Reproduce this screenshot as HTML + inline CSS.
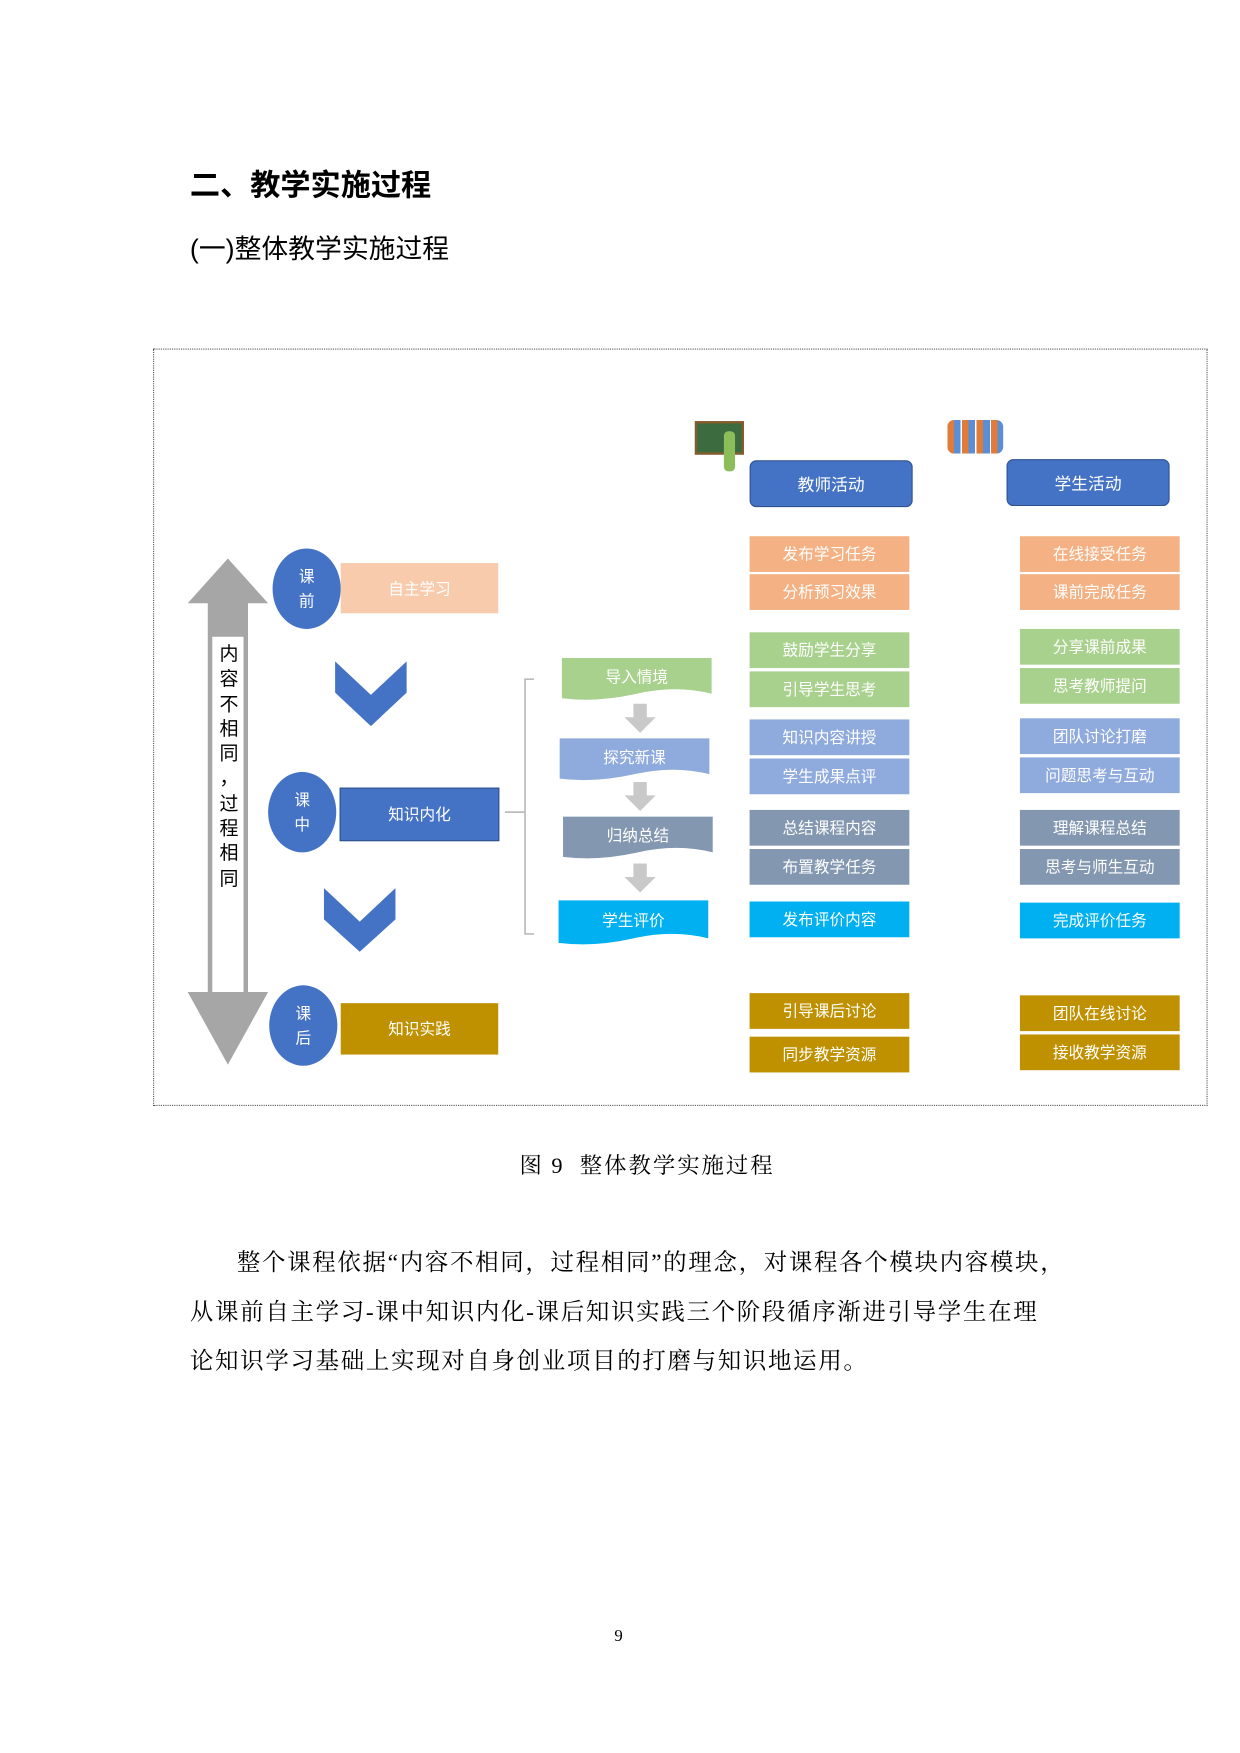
<!DOCTYPE html>
<html><head><meta charset="utf-8"><style>
html,body{margin:0;padding:0;background:#fff;}
body{width:1240px;height:1753px;overflow:hidden;position:relative;}
#w{position:absolute;left:0;top:0;width:1110px;height:1569px;transform:scale(1.11712);transform-origin:0 0;font-family:"Liberation Sans","Noto Sans CJK SC",sans-serif;}
.a{position:absolute;}
.b{position:absolute;color:#fff;font-size:14px;display:flex;align-items:center;justify-content:center;}
.t{width:143px;height:32px;}
.c{position:absolute;border-radius:50%;background:#4472c4;color:#fff;font-size:14px;display:flex;align-items:center;justify-content:center;text-align:center;line-height:22px;}
.serif{font-family:"Liberation Serif","Noto Serif CJK SC",serif;}
</style></head><body><div id="w">
<div class="a" style="left:170px;top:144px;font-size:27px;font-weight:bold;">二、教学实施过程</div>
<div class="a" style="left:170px;top:203px;font-size:24px;">(一)整体教学实施过程</div>
<div class="a" style="left:137px;top:312px;width:942px;height:676px;border:1px dotted #555;"></div>

<!-- icons -->
<div class="a" style="left:622px;top:377px;width:40px;height:26px;background:#3b6b3f;border:2px solid #8a5a2b;"></div>
<div class="a" style="left:648px;top:386px;width:10px;height:36px;background:#8bbd5a;border-radius:4px;"></div>
<div class="a" style="left:848px;top:376px;width:50px;height:30px;background:repeating-linear-gradient(90deg,#e07b39 0 6px,#5a8fd8 6px 12px,#fff 12px 13px);border-radius:6px;"></div>

<div class="b" style="left:671px;top:412px;width:144px;height:40px;background:#4472c4;border:1px solid #2f528f;border-radius:6px;font-size:15px;">教师活动</div>
<div class="b" style="left:901px;top:411px;width:144px;height:40px;background:#4472c4;border:1px solid #2f528f;border-radius:6px;font-size:15px;">学生活动</div>

<div class="b t" style="left:671px;top:480px;background:#f4b183">发布学习任务</div>
<div class="b t" style="left:671px;top:514px;background:#f4b183">分析预习效果</div>
<div class="b t" style="left:671px;top:566px;background:#a9d18e">鼓励学生分享</div>
<div class="b t" style="left:671px;top:601px;background:#a9d18e">引导学生思考</div>
<div class="b t" style="left:671px;top:644px;background:#8faadc">知识内容讲授</div>
<div class="b t" style="left:671px;top:679px;background:#8faadc">学生成果点评</div>
<div class="b t" style="left:671px;top:725px;background:#8497b0">总结课程内容</div>
<div class="b t" style="left:671px;top:760px;background:#8497b0">布置教学任务</div>
<div class="b t" style="left:671px;top:807px;background:#00b0f0">发布评价内容</div>
<div class="b t" style="left:671px;top:889px;background:#bf9000">引导课后讨论</div>
<div class="b t" style="left:671px;top:928px;background:#bf9000">同步教学资源</div>

<div class="b t" style="left:913px;top:480px;background:#f4b183">在线接受任务</div>
<div class="b t" style="left:913px;top:514px;background:#f4b183">课前完成任务</div>
<div class="b t" style="left:913px;top:563px;background:#a9d18e">分享课前成果</div>
<div class="b t" style="left:913px;top:598px;background:#a9d18e">思考教师提问</div>
<div class="b t" style="left:913px;top:643px;background:#8faadc">团队讨论打磨</div>
<div class="b t" style="left:913px;top:678px;background:#8faadc">问题思考与互动</div>
<div class="b t" style="left:913px;top:725px;background:#8497b0">理解课程总结</div>
<div class="b t" style="left:913px;top:760px;background:#8497b0">思考与师生互动</div>
<div class="b t" style="left:913px;top:808px;background:#00b0f0">完成评价任务</div>
<div class="b t" style="left:913px;top:891px;background:#bf9000">团队在线讨论</div>
<div class="b t" style="left:913px;top:926px;background:#bf9000">接收教学资源</div>

<svg class="a" style="left:0;top:0" width="1110" height="1000">
<polygon points="204,500 240,540 222,540 222,888 240,888 204,953 168,888 186,888 186,540 168,540" fill="#a6a6a6"/>
<rect x="190" y="570" width="28" height="318" fill="#fff"/>
<polygon points="300,592 332,622 364,592 364,620 332,650 300,620" fill="#4472c4"/>
<polygon points="290,795 322,825 354,795 354,823 322,852 290,823" fill="#4472c4"/>
<path d="M478,608 H470 V836 H478 M452,727 H470" stroke="#bbb" fill="none" stroke-width="1.5"/>
<path d="M503,589 H637 V621 Q605,613 570,621 T503,625 Z" fill="#a9d18e"/>
<path d="M501,661 H635 V693 Q603,685 568,693 T501,697 Z" fill="#8faadc"/>
<path d="M504,731 H638 V763 Q606,755 571,763 T504,767 Z" fill="#8497b0"/>
<path d="M500,806 H634 V840 Q602,832 567,840 T500,844 Z" fill="#00b0f0"/>
<g fill="#c9c9c9">
<polygon points="567,630 579,630 579,642 587,642 573,656 559,642 567,642"/>
<polygon points="567,700 579,700 579,712 587,712 573,726 559,712 567,712"/>
<polygon points="567,773 579,773 579,785 587,785 573,799 559,785 567,785"/>
</g>
<g fill="#fff" font-size="14" text-anchor="middle" font-family="Liberation Sans,Noto Sans CJK SC,sans-serif">
<text x="570" y="611">导入情境</text><text x="568" y="683">探究新课</text>
<text x="571" y="753">归纳总结</text><text x="567" y="829">学生评价</text></g>
</svg>
<div class="a" style="left:190px;top:575px;width:30px;font-size:17px;line-height:22.3px;text-align:center;">内<br>容<br>不<br>相<br>同<br>，<br>过<br>程<br>相<br>同</div>

<div class="b" style="left:305px;top:504px;width:141px;height:45px;background:#f8cbad">自主学习</div>
<div class="b" style="left:304px;top:705px;width:141px;height:46px;background:#4472c4;border:1px solid #2f528f">知识内化</div>
<div class="b" style="left:305px;top:898px;width:141px;height:46px;background:#bf9000">知识实践</div>
<div class="c" style="left:244px;top:491px;width:61px;height:72px;">课<br>前</div>
<div class="c" style="left:240px;top:691px;width:61px;height:72px;">课<br>中</div>
<div class="c" style="left:241px;top:882px;width:61px;height:72px;">课<br>后</div>

<div class="a serif" style="left:465px;top:1027px;font-size:20px;white-space:pre;letter-spacing:1.8px;">图 9  整体教学实施过程</div>
<div class="a serif" style="left:170px;top:1108px;width:900px;font-size:21px;line-height:44px;white-space:nowrap;letter-spacing:1.5px;"><span style="padding-left:42px"></span>整个课程依据“内容不相同，过程相同”的理念，对课程各个模块内容模块，<br>从课前自主学习-课中知识内化-课后知识实践三个阶段循序渐进引导学生在理<br>论知识学习基础上实现对自身创业项目的打磨与知识地运用。</div>
<div class="a serif" style="left:550px;top:1457px;font-size:15px;">9</div>
</div></body></html>
